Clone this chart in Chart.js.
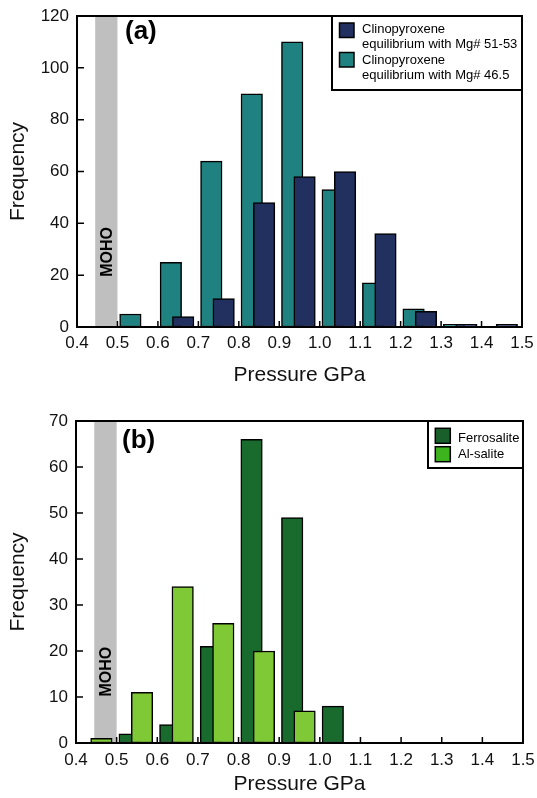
<!DOCTYPE html>
<html><head><meta charset="utf-8">
<script src="https://cdn.jsdelivr.net/npm/chart.js@4.4.1/dist/chart.umd.min.js"></script>
<style>
html,body{margin:0;padding:0;background:#fff;}
#wrap{position:relative;width:537px;height:798px;overflow:hidden;}
canvas{position:absolute;left:0;display:block;}
</style></head><body>
<div id="wrap">
<canvas id="ca" width="537" height="395" style="top:0"></canvas>
<canvas id="cb" width="537" height="403" style="top:395px"></canvas>
</div>
<script>
// ---------- data (bin lower edges in GPa, frequencies) ----------
const binsA = [0.4, 0.5, 0.6, 0.7, 0.8, 0.9, 1.0, 1.1, 1.2, 1.3, 1.4];
const mg5153 = [0, 0, 4, 11, 48, 58, 60, 36, 6, 1, 1];
const mg465  = [0, 5, 25, 64, 90, 110, 53, 17, 7, 1, 0];

const binsB = [0.4, 0.5, 0.6, 0.7, 0.8, 0.9, 1.0];
const ferrosalite = [0, 2, 4, 21, 66, 49, 8];
const alSalite    = [1, 11, 34, 26, 20, 7, 0];

const xTickLabels = ['0.4','0.5','0.6','0.7','0.8','0.9','1.0','1.1','1.2','1.3','1.4','1.5'];
const yTicksA = [0, 20, 40, 60, 80, 100, 120];
const yTicksB = [0, 10, 20, 30, 40, 50, 60, 70];
const mohoRange = [0.445, 0.5];

// ---------- styling ----------
const FONT = "'Liberation Sans', Arial, Helvetica, sans-serif";
const LEFT_OFF = 0.032, RIGHT_OFF = 0.0625; // bar centre offset inside a bin

function toPoints(bins, vals, off) {
  return bins.map((b, i) => ({x: +(b + off).toFixed(4), y: vals[i] > 0 ? vals[i] : null}));
}

const framePlugin = {
  id: 'frame',
  beforeDatasetsDraw(chart, args, o) {
    const {ctx, chartArea: a, scales: {x, y}} = chart;
    ctx.save();
    const x0 = x.getPixelForValue(o.moho[0]), x1 = x.getPixelForValue(o.moho[1]);
    ctx.fillStyle = '#bfbfbf';
    ctx.fillRect(x0, a.top, x1 - x0, a.bottom - a.top);
    ctx.translate((x0 + x1) / 2, y.getPixelForValue(o.mohoY));
    ctx.rotate(-Math.PI / 2);
    ctx.fillStyle = '#000';
    ctx.font = 'bold 16px ' + FONT;
    ctx.textAlign = 'center';
    ctx.textBaseline = 'middle';
    ctx.fillText('MOHO', 0, 1);
    ctx.restore();
  },
  afterDraw(chart, args, o) {
    const {ctx, chartArea: a, scales: {x, y}} = chart;
    ctx.save();
    // ticks (inward)
    ctx.strokeStyle = '#000';
    ctx.lineWidth = 1.5;
    ctx.beginPath();
    x.ticks.forEach(t => {
      const px = x.getPixelForValue(t.value);
      ctx.moveTo(px, a.bottom); ctx.lineTo(px, a.bottom - 6);
    });
    y.ticks.forEach(t => {
      const py = y.getPixelForValue(t.value);
      ctx.moveTo(a.left, py); ctx.lineTo(a.left + 7, py);
    });
    ctx.stroke();
    // frame
    ctx.lineWidth = 2;
    ctx.strokeRect(a.left, a.top, a.right - a.left, a.bottom - a.top);
    // panel label
    ctx.fillStyle = '#000';
    ctx.font = 'bold 26px ' + FONT;
    ctx.textAlign = 'left';
    ctx.textBaseline = 'alphabetic';
    ctx.fillText(o.label, o.labelX, o.labelY);
    // legend
    const L = o.legend;
    const bx = L.left, by = a.top, bw = a.right - L.left, bh = L.height;
    ctx.fillStyle = '#fff';
    ctx.fillRect(bx, by, bw, bh);
    ctx.lineWidth = 2;
    ctx.strokeRect(bx, by, bw, bh);
    ctx.font = '13px ' + FONT;
    ctx.textBaseline = 'middle';
    L.items.forEach(it => {
      ctx.fillStyle = it.color;
      ctx.fillRect(bx + L.swX, by + it.swY, L.sw, L.sw);
      ctx.lineWidth = 1.5;
      ctx.strokeStyle = '#000';
      ctx.strokeRect(bx + L.swX, by + it.swY, L.sw, L.sw);
      ctx.fillStyle = '#000';
      it.lines.forEach((ln, k) => ctx.fillText(ln, bx + L.txX, by + it.txY[k]));
    });
    ctx.restore();
  }
};

function makeChart(id, cfg) {
  const barCommon = {grouped: false, barThickness: 21.5, borderWidth: 1.5, borderColor: '#000', borderSkipped: false};
  return new Chart(document.getElementById(id), {
    type: 'bar',
    data: {datasets: cfg.datasets.map(d => Object.assign({}, barCommon, d))},
    options: {
      responsive: false, animation: false, devicePixelRatio: 1,
      layout: {padding: cfg.padding},
      plugins: {legend: {display: false}, tooltip: {enabled: false}, frame: cfg.frame},
      scales: {
        x: {
          type: 'linear', offset: false, min: 0.4, max: 1.5,
          afterFit: s => { s.height = cfg.xHeight; s.paddingLeft = 0; s.paddingRight = 0; },
          afterBuildTicks: s => { s.ticks = xTickLabels.map(v => ({value: parseFloat(v)})); },
          grid: {display: false, drawTicks: false}, border: {display: false},
          ticks: {autoSkip: false, maxRotation: 0, padding: cfg.xPad, color: '#111', font: {family: FONT, size: 17},
                  callback: (v) => v.toFixed(1)},
          title: {display: true, text: 'Pressure GPa', color: '#111', font: {family: FONT, size: 21}, padding: {top: 0, bottom: cfg.xTitlePad}}
        },
        y: {
          min: 0, max: cfg.yTicks[cfg.yTicks.length - 1],
          afterFit: s => { s.width = cfg.yWidth; s.paddingTop = 0; s.paddingBottom = 0; },
          afterBuildTicks: s => { s.ticks = cfg.yTicks.map(v => ({value: v})); },
          grid: {display: false, drawTicks: false}, border: {display: false},
          ticks: {padding: 8, color: '#111', font: {family: FONT, size: 17}},
          title: {display: true, text: 'Frequency', color: '#111', font: {family: FONT, size: 21}, padding: {top: 6, bottom: 0}}
        }
      }
    },
    plugins: [framePlugin]
  });
}

makeChart('ca', {
  padding: {left: 0, right: 15, top: 16, bottom: 0},
  xHeight: 68, yWidth: 77, xPad: 6, xTitlePad: 7, yTicks: yTicksA,
  datasets: [
    {label: 'Clinopyroxene equilibrium with Mg# 51-53', data: toPoints(binsA, mg5153, RIGHT_OFF), backgroundColor: '#21305f'},
    {label: 'Clinopyroxene equilibrium with Mg# 46.5', data: toPoints(binsA, mg465, LEFT_OFF), backgroundColor: '#208280'}
  ],
  frame: {
    moho: mohoRange, mohoY: 29, label: '(a)', labelX: 125, labelY: 39,
    legend: {left: 332, height: 74, swX: 7.5, sw: 14.5, txX: 30,
      items: [
        {color: '#21305f', swY: 7, lines: ['Clinopyroxene', 'equilibrium with Mg# 51-53'], txY: [13.3, 28.7]},
        {color: '#208280', swY: 36.5, lines: ['Clinopyroxene', 'equilibrium with Mg# 46.5'], txY: [44, 59.3]}
      ]}
  }
});

makeChart('cb', {
  padding: {left: 0, right: 14, top: 26, bottom: 0},
  xHeight: 55, yWidth: 76, xPad: 7, xTitlePad: 1, yTicks: yTicksB,
  datasets: [
    {label: 'Ferrosalite', data: toPoints(binsB, ferrosalite, LEFT_OFF), backgroundColor: '#196a2d', order: 1},
    {label: 'Al-salite', data: toPoints(binsB, alSalite, RIGHT_OFF), backgroundColor: '#80c936', order: 0}
  ],
  frame: {
    moho: mohoRange, mohoY: 15.5, label: '(b)', labelX: 122, labelY: 52.6,
    legend: {left: 428, height: 47, swX: 7.3, sw: 15, txX: 30,
      items: [
        {color: '#185f2b', swY: 7.3, lines: ['Ferrosalite'], txY: [17.3]},
        {color: '#3db41e', swY: 25.7, lines: ['Al-salite'], txY: [33]}
      ]}
  }
});
</script>
</body></html>
